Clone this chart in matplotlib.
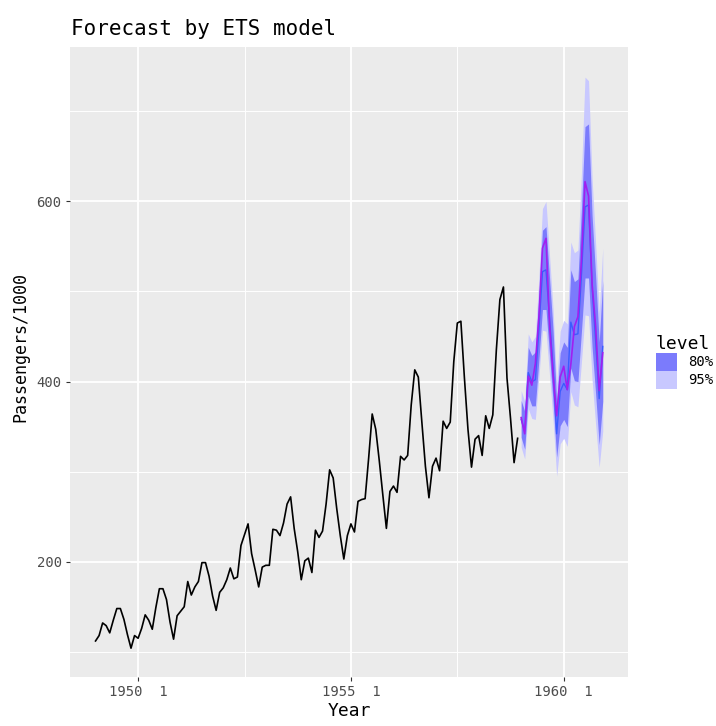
import numpy as np
import matplotlib
matplotlib.use("Agg")
from matplotlib import pyplot as plt
from matplotlib.patches import Patch

plt.rcParams['font.family'] = ['DejaVu Sans Mono', 'DejaVu Sans']

# monthly air passengers, training span 1949-1958
train = [112, 118, 132, 129, 121, 135, 148, 148, 136, 119, 104, 118,
         115, 126, 141, 135, 125, 149, 170, 170, 158, 133, 114, 140,
         145, 150, 178, 163, 172, 178, 199, 199, 184, 162, 146, 166,
         171, 180, 193, 181, 183, 218, 230, 242, 209, 191, 172, 194,
         196, 196, 236, 235, 229, 243, 264, 272, 237, 211, 180, 201,
         204, 188, 235, 227, 234, 264, 302, 293, 259, 229, 203, 229,
         242, 233, 267, 269, 270, 315, 364, 347, 312, 274, 237, 278,
         284, 277, 317, 313, 318, 374, 413, 405, 355, 306, 271, 306,
         315, 301, 356, 348, 355, 422, 465, 467, 404, 347, 305, 336,
         340, 318, 362, 348, 363, 435, 491, 505, 404, 359, 310, 337]

# held-out months 1959-1960
test = [360, 342, 406, 396, 420, 472, 548, 559, 463, 407, 362, 405,
        417, 391, 419, 461, 472, 535, 622, 606, 508, 461, 390, 432]

# ETS point forecast and prediction intervals
fc_mean = [358, 345, 410, 400, 402, 458, 522, 524, 470, 415, 342, 389,
           398, 391, 466, 452, 453, 519, 594, 596, 505, 445, 381, 439]
lo80 = [338, 325, 384, 373, 373, 424, 480, 480, 429, 377, 316, 351,
        358, 350, 415, 401, 400, 456, 515, 515, 438, 386, 330, 378]
hi80 = [379, 367, 438, 429, 433, 495, 568, 572, 515, 457, 378, 432,
        444, 438, 524, 511, 514, 592, 683, 686, 584, 517, 444, 512]
lo95 = [327, 314, 370, 359, 358, 405, 457, 456, 407, 357, 295, 331,
        337, 328, 389, 374, 372, 422, 474, 473, 402, 352, 305, 345]
hi95 = [390, 378, 453, 444, 450, 516, 592, 600, 540, 480, 398, 456,
        468, 464, 555, 543, 546, 632, 738, 734, 625, 553, 476, 548]

t_train = 1949 + np.arange(len(train)) / 12
t_fc = 1959 + np.arange(len(test)) / 12

fig = plt.figure(figsize=(7.16, 7.26), dpi=100)
ax = fig.add_axes([70 / 716, 49 / 726, 558 / 716, 630.5 / 726])
ax.set_facecolor('#ebebeb')
for s in ax.spines.values():
    s.set_visible(False)

ax.fill_between(t_fc, lo95, hi95, color='#c8c8ff', lw=0)
ax.fill_between(t_fc, lo80, hi80, color='#7b7bfc', lw=0)
ax.plot(t_fc, fc_mean, color='#3a5cff', lw=1.0)
ax.plot(t_train, train, color='black', lw=1.2)
ax.plot(t_fc, test, color='#a020f0', lw=1.2)

ax.set_xlim(1948.40, 1961.51)
ax.set_ylim(72, 772)
ax.set_xticks([1950, 1955, 1960])
ax.set_xticklabels(['1950  1', '1955  1', '1960  1'])
ax.set_xticks([1952.5, 1957.5], minor=True)
ax.set_yticks([200, 400, 600])
ax.set_yticks([100, 300, 500, 700], minor=True)
ax.grid(which='major', color='white', lw=1.3)
ax.grid(which='minor', color='white', lw=0.7)
ax.set_axisbelow(True)
ax.tick_params(which='major', length=3, width=0.8, color='#333333',
               labelcolor='#4d4d4d', labelsize=10, pad=3)
ax.tick_params(which='minor', length=0)

ax.set_xlabel('Year', fontsize=13, labelpad=2)
ax.set_ylabel('Passengers/1000', fontsize=12)
ax.yaxis.set_label_coords(-0.072, 0.523)
fig.text(71 / 716, 1 - 35 / 726, 'Forecast by ETS model', fontsize=15,
         ha='left', va='baseline')

handles = [Patch(facecolor='#7b7bfc', edgecolor='none'),
           Patch(facecolor='#c8c8ff', edgecolor='none')]
ax.legend(handles, ['80%', '95%'], title='level', loc='center left',
          bbox_to_anchor=(1.0, 0.5), frameon=False, fontsize=10,
          title_fontsize=13, handlelength=1.5, handleheight=1.6,
          labelspacing=0, handletextpad=0.8, borderaxespad=1.6,
          alignment='left')

fig.savefig('out.png', dpi=100)
